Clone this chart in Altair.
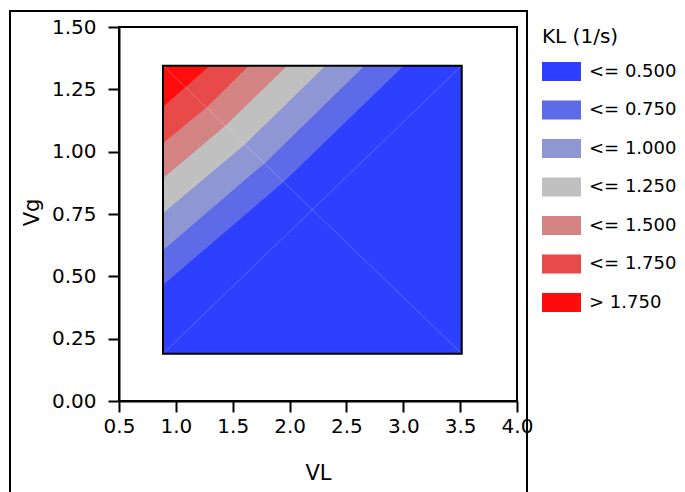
import altair as alt
import pandas as pd

FONT = "DejaVu Sans"

# extent of the data grid (VL, Vg)
vl_range = [0.887, 3.514]
vg_range = [0.19, 1.345]

# contour lines: left edge, diagonal crossing, top edge
contour_levels = [0.5, 0.75, 1.0, 1.25, 1.5, 1.75]
contour_vl = [
    [0.887, 1.956, 3.004],
    [0.887, 1.789, 2.659],
    [0.887, 1.619, 2.316],
    [0.887, 1.443, 1.979],
    [0.887, 1.277, 1.642],
    [0.887, 1.092, 1.297],
]
contour_vg = [
    [0.465, 0.882, 1.345],
    [0.605, 0.957, 1.345],
    [0.753, 1.034, 1.345],
    [0.893, 1.107, 1.345],
    [1.034, 1.180, 1.345],
    [1.180, 1.261, 1.345],
]

band_labels = ["<= 0.500", "<= 0.750", "<= 1.000", "<= 1.250", "<= 1.500", "<= 1.750", "> 1.750"]
band_colors = ["#2D3FFF", "#5E6BE8", "#8E96D4", "#C0C0C0", "#D48383", "#E84A4A", "#FF0D0D"]

x_ticks = [0.5, 1.0, 1.5, 2.0, 2.5, 3.0, 3.5, 4.0]
y_ticks = [0.0, 0.25, 0.5, 0.75, 1.0, 1.25, 1.5]

xscale = alt.Scale(domain=[0.5, 4.0], nice=False, zero=False)
yscale = alt.Scale(domain=[0.0, 1.5], nice=False, zero=False)
cscale = alt.Scale(domain=band_labels, range=band_colors)

axis_common = dict(
    grid=False, domainColor="black", domainWidth=2, tickColor="black", tickWidth=2,
    tickSize=11, labelFont=FONT, labelFontSize=20, labelColor="black",
    titleFont=FONT, titleFontSize=21, titleColor="black", titleFontWeight="normal",
)
xaxis = alt.Axis(values=x_ticks, format=".1f", labelPadding=4, title="VL",
                 titleX=199, titleY=72, titleBaseline="middle", titleAlign="center",
                 labelFlush=False, labelOverlap=False, **axis_common)
yaxis = alt.Axis(values=y_ticks, format=".2f", labelPadding=12, title="Vg",
                 titleX=-87, titleY=185, titleAngle=270, titleBaseline="middle",
                 titleAlign="center", labelFlush=False, labelOverlap=False, **axis_common)

legend = alt.Legend(
    title="KL (1/s)", orient="none", legendX=423, legendY=0, padding=0,
    symbolType="M-1,-0.49L1,-0.49L1,0.49L-1,0.49Z", symbolSize=1521,
    symbolStrokeWidth=0, symbolOpacity=1,
    labelFont=FONT, labelFontSize=18, labelColor="black", labelOffset=8,
    titleFont=FONT, titleFontSize=20, titleColor="black", titleFontWeight="normal",
    titlePadding=5, rowPadding=8.5, labelLimit=200,
)

color = alt.Color("band:N", scale=cscale, legend=legend, title="KL (1/s)")

base_df = pd.DataFrame({"VL": [vl_range[0]], "VL2": [vl_range[1]],
                        "Vg": [vg_range[0]], "Vg2": [vg_range[1]], "band": [band_labels[0]]})

base = alt.Chart(base_df).mark_rect(strokeWidth=0).encode(
    x=alt.X("VL:Q", scale=xscale, axis=xaxis),
    x2="VL2:Q",
    y=alt.Y("Vg:Q", scale=yscale, axis=yaxis),
    y2="Vg2:Q",
    color=color,
)

layers = [base]
for i, lev in enumerate(contour_levels):
    df = pd.DataFrame({
        "VL": contour_vl[i],
        "Vg": contour_vg[i],
        "top": [vg_range[1]] * len(contour_vl[i]),
        "band": [band_labels[i + 1]] * len(contour_vl[i]),
    })
    layers.append(
        alt.Chart(df).mark_area(interpolate="linear", strokeWidth=0).encode(
            x=alt.X("VL:Q", scale=xscale),
            y=alt.Y("Vg:Q", scale=yscale, stack=None),
            y2="top:Q",
            color=color,
        )
    )

diag_df = pd.DataFrame({
    "VL": [vl_range[0], vl_range[0]], "VL2": [vl_range[1], vl_range[1]],
    "Vg": [vg_range[1], vg_range[0]], "Vg2": [vg_range[0], vg_range[1]],
})
diag = alt.Chart(diag_df).mark_rule(color="white", opacity=0.22, strokeWidth=1).encode(
    x=alt.X("VL:Q", scale=xscale), x2="VL2:Q",
    y=alt.Y("Vg:Q", scale=yscale), y2="Vg2:Q",
)
layers.append(diag)

outline = alt.Chart(base_df).mark_rect(fillOpacity=0, stroke="black", strokeWidth=2).encode(
    x=alt.X("VL:Q", scale=xscale), x2="VL2:Q",
    y=alt.Y("Vg:Q", scale=yscale), y2="Vg2:Q",
)
layers.append(outline)

one = pd.DataFrame({"a": [0]})
frame_left = alt.Chart(one).mark_rule(color="black", strokeWidth=2).encode(
    x=alt.value(-109), y=alt.value(-16), y2=alt.value(480))
frame_right = alt.Chart(one).mark_rule(color="black", strokeWidth=2).encode(
    x=alt.value(408), y=alt.value(-16), y2=alt.value(480))
frame_top = alt.Chart(one).mark_rule(color="black", strokeWidth=2).encode(
    x=alt.value(-110), x2=alt.value(409), y=alt.value(-16))
layers += [frame_left, frame_right, frame_top]

chart = alt.layer(*layers).properties(
    width=398, height=374,
    autosize=alt.AutoSizeParams(type="none"),
    padding={"left": 119, "top": 27, "right": 168, "bottom": 91},
    background="white",
).configure_view(stroke="black", strokeWidth=2)

chart.save("out.html", embed_options={"renderer": "svg", "actions": False})
